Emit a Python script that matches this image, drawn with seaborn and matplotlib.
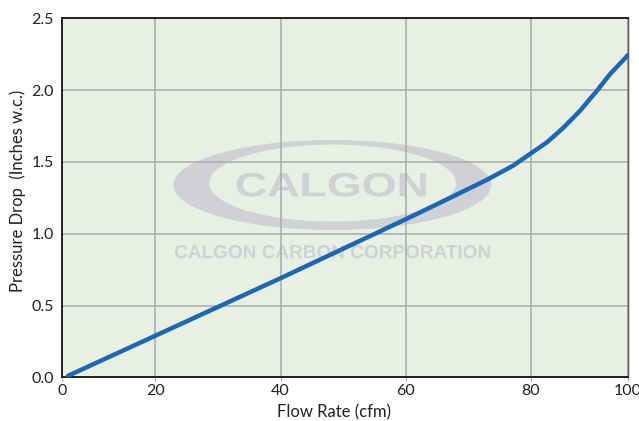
import matplotlib
matplotlib.use("Agg")
import matplotlib.pyplot as plt
import seaborn as sns
from matplotlib.patches import Ellipse, PathPatch
from matplotlib.textpath import TextPath
from matplotlib.font_manager import FontProperties
from matplotlib.transforms import Affine2D

# flow rate (cfm) vs pressure drop (inches w.c.)
flow_rate = [6.0, 10, 20, 30, 40, 50, 60, 62.3, 67.6, 73.0, 77.2, 79.9, 82.6,
             85.2, 87.9, 90.6, 92.7, 95.6]
pressure_drop = [0.01, 0.09, 0.29, 0.49, 0.69, 0.895, 1.10, 1.148, 1.26, 1.375,
                 1.474, 1.555, 1.636, 1.736, 1.856, 1.995, 2.111, 2.245]

# the printed chart labels its frame edges "0" and "100"
x_edges = (5.05, 95.6)
x_ticks = [x_edges[0], 20, 40, 60, 80, x_edges[1]]
x_labels = ["0", "20", "40", "60", "80", "100"]
y_ticks = [0.0, 0.5, 1.0, 1.5, 2.0, 2.5]

bg = "#e9efe3"
grid_col = "#a9aaac"
ink = "#231f20"
mark = "#d0d1d4"


def stretched_text(ax, s, box, color, zorder):
    """Draw s as a filled path stretched to fill box (axes fraction)."""
    x0, y0, x1, y1 = box
    tp = TextPath((0, 0), s, size=10,
                  prop=FontProperties(family="Liberation Sans", weight="bold"))
    ext = tp.get_extents()
    tr = (Affine2D().translate(-ext.x0, -ext.y0)
          .scale((x1 - x0) / ext.width, (y1 - y0) / ext.height)
          .translate(x0, y0) + ax.transAxes)
    ax.add_patch(PathPatch(tp, transform=tr, facecolor=color,
                           edgecolor="none", zorder=zorder))


sns.set_style("white")
plt.rcParams["font.family"] = ["Lato", "DejaVu Sans"]

fig = plt.figure(figsize=(6.39, 4.21), dpi=100)
ax = fig.add_axes([0.097, 0.1038, 0.886, 0.8527])
ax.set_facecolor(bg)

# watermark
ax.add_patch(Ellipse((0.4777, 0.5357), 0.5615, 0.2507, transform=ax.transAxes,
                     facecolor=mark, edgecolor="none", zorder=0.2))
ax.add_patch(Ellipse((0.478, 0.541), 0.436, 0.2145, transform=ax.transAxes,
                     facecolor=bg, edgecolor="none", zorder=0.3))
stretched_text(ax, "CALGON", (0.3085, 0.503, 0.6428, 0.570), mark, 0.4)
stretched_text(ax, "CALGON CARBON CORPORATION", (0.1995, 0.3315, 0.7558, 0.3685),
               mark, 0.4)

sns.lineplot(x=flow_rate, y=pressure_drop, ax=ax, color="#1868b5",
             linewidth=3.2, zorder=3)

ax.set_xlim(*x_edges)
ax.set_ylim(0, 2.5)
ax.set_xticks(x_ticks)
ax.set_xticklabels(x_labels)
ax.set_yticks(y_ticks)
ax.set_yticklabels([f"{v:.1f}" for v in y_ticks])
ax.grid(True, color=grid_col, linewidth=1.1)
ax.set_axisbelow(True)

ax.tick_params(axis="x", length=3, width=0.8, color=grid_col, pad=1.5,
               labelsize=11.5, labelcolor=ink, bottom=True)
ax.tick_params(axis="y", length=0, pad=6, labelsize=11.5, labelcolor=ink)

for side in ["left", "bottom", "top"]:
    ax.spines[side].set_color(ink)
    ax.spines[side].set_linewidth(1.4)
ax.spines["right"].set_color("#555555")
ax.spines["right"].set_linewidth(1.0)

ax.set_xlabel("Flow Rate (cfm)", fontsize=12, color=ink)
ax.set_ylabel("Pressure Drop  (Inches w.c.)", fontsize=12, color=ink)
ax.xaxis.set_label_coords(0.48, -0.076)
ax.yaxis.set_label_coords(-0.064, 0.52)

fig.savefig("out.png", dpi=100, facecolor="white")
